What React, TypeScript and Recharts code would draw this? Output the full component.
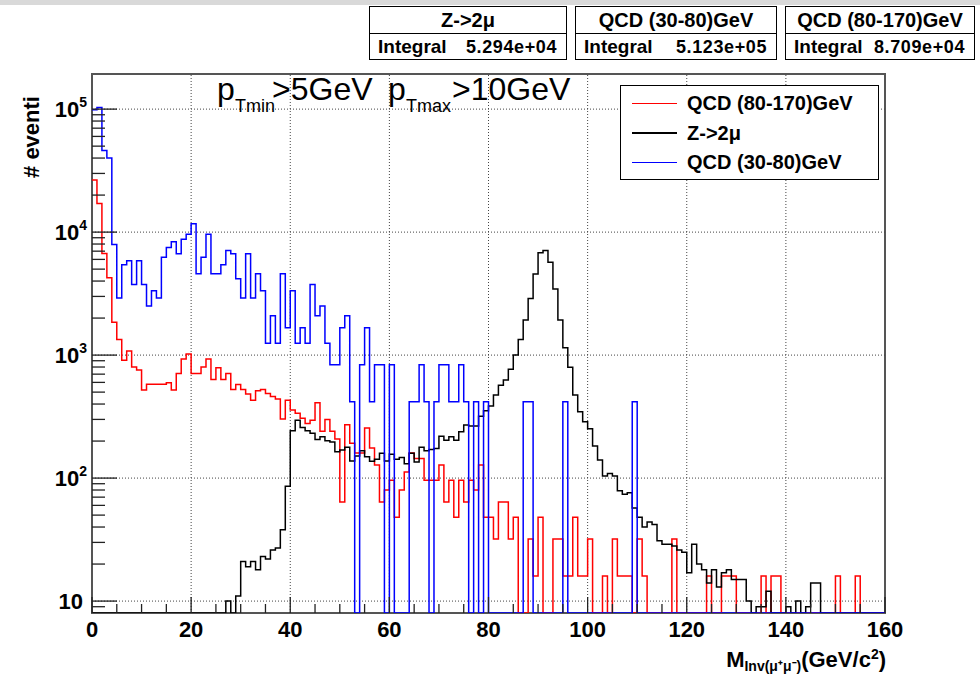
import React from "react";
import { LineChart, Line, XAxis, YAxis, ReferenceLine } from "recharts";

// 1 GeV bins, low edges 0..159
const binLow: number[] = Array.from({ length: 160 }, (_, i) => i);

// QCD (80-170)GeV  (red)
const qcd80_170 = [
  26500, 17100, 6700, 4250, 1850, 1340, 910, 1080, 800, 755,
  520, 580, 580, 580, 580, 596, 520, 710, 930, 1020,
  710, 710, 800, 930, 634, 789, 634, 710, 526, 578,
  526, 482, 430, 513, 526, 488, 460, 440, 302, 430,
  357, 336, 306, 278, 296, 409, 240, 300, 240, 208,
  64, 272, 192, 160, 160, 256, 176, 128, 64, 80,
  96, 48, 80, 112, 160, 144, 144, 96, 96, 96,
  128, 64, 96, 48, 96, 64, 96, 80, 128, 48,
  48, 32, 64, 64, 32, 48, 0, 0, 32, 16,
  48, 0, 0, 32, 32, 16, 16, 48, 16, 16,
  32, 0, 0, 16, 0, 32, 16, 16, 16, 0,
  32, 16, 0, 0, 0, 0, 0, 32, 0, 0,
  0, 0, 0, 0, 16, 0, 0, 16, 16, 16,
  0, 0, 0, 0, 0, 16, 0, 16, 16, 0,
  0, 0, 0, 0, 0, 0, 0, 0, 0, 0,
  16, 0, 0, 0, 16, 0, 0, 0, 0, 0,
];

// Z->2mu  (black)
const zmumu = [
  0, 0, 0, 0, 0, 0, 0, 0, 0, 0,
  0, 0, 0, 0, 0, 0, 0, 0, 0, 0,
  0, 0, 0, 0, 0, 0, 0, 10, 0, 11,
  21, 19, 21, 18, 23, 22, 26, 27, 38, 86,
  243, 296, 258, 243, 231, 206, 217, 201, 197, 164,
  169, 178, 138, 151, 167, 149, 137, 142, 159, 138,
  156, 142, 147, 131, 159, 135, 178, 167, 171, 174,
  219, 203, 217, 203, 238, 270, 265, 265, 319, 353,
  385, 473, 570, 627, 766, 1000, 1340, 1930, 2890, 4560,
  6800, 7100, 5700, 3440, 1930, 1150, 795, 473, 346, 287,
  252, 182, 140, 104, 109, 104, 79, 74, 76, 57,
  48, 40, 44, 42, 31, 29, 29, 28, 26, 25,
  17, 29, 20, 18, 14, 18, 13, 17, 18, 15,
  15, 15, 10, 0, 9, 9, 12, 0, 0, 0,
  9, 0, 10, 0, 9, 14, 14, 0, 0, 0,
  0, 0, 0, 0, 0, 0, 0, 0, 0, 0,
];

// QCD (30-80)GeV  (blue)
const qcd30_80 = [
  99000, 103000, 46000, 40000, 7923, 2919, 5421, 5838, 3753, 5838,
  3753, 2502, 3336, 2919, 6255, 7506, 8340, 6672, 8757, 9591,
  11676, 4587, 6255, 9591, 4587, 4587, 5421, 7089, 6672, 4170,
  2919, 6672, 2919, 4587, 3336, 1251, 2085, 1251, 4587, 1668,
  3336, 1251, 1668, 1251, 3753, 2085, 2502, 1251, 834, 834,
  1668, 2085, 417, 0, 834, 1668, 417, 834, 834, 0,
  834, 0, 0, 0, 417, 417, 834, 417, 0, 417,
  834, 834, 417, 417, 834, 417, 0, 417, 0, 417,
  0, 0, 0, 0, 0, 0, 0, 417, 417, 0,
  0, 0, 0, 0, 0, 417, 0, 0, 0, 0,
  0, 0, 0, 0, 0, 0, 0, 0, 0, 417,
  0, 0, 0, 0, 0, 0, 0, 0, 0, 0,
  0, 0, 0, 0, 0, 0, 0, 0, 0, 0,
  0, 0, 0, 0, 0, 0, 0, 0, 0, 0,
  0, 0, 0, 0, 0, 0, 0, 0, 0, 0,
  0, 0, 0, 0, 0, 0, 0, 0, 0, 0,
];

const xTicks = [
  0, 5, 10, 15, 20, 25, 30, 35, 40, 45, 50, 55, 60, 65, 70, 75, 80,
  85, 90, 95, 100, 105, 110, 115, 120, 125, 130, 135, 140, 145, 150, 155, 160,
];
const xGrid = [20, 40, 60, 80, 100, 120, 140];
const yTicks = [
  9, 10, 20, 30, 40, 50, 60, 70, 80, 90,
  100, 200, 300, 400, 500, 600, 700, 800, 900,
  1000, 2000, 3000, 4000, 5000, 6000, 7000, 8000, 9000,
  10000, 20000, 30000, 40000, 50000, 60000, 70000, 80000, 90000,
  100000,
];
const yGrid = [10, 100, 1000, 10000, 100000];

const stats = [
  { title: "Z->2μ", integral: "5.294e+04", left: 369, width: 198 },
  { title: "QCD (30-80)GeV", integral: "5.123e+05", left: 575, width: 202 },
  { title: "QCD (80-170)GeV", integral: "8.709e+04", left: 785, width: 190 },
];

const legendItems = [
  { label: "QCD (80-170)GeV", color: "#ff0000" },
  { label: "Z->2μ", color: "#000000" },
  { label: "QCD (30-80)GeV", color: "#0000ff" },
];

const Y_MIN = 8;
const Y_MAX = 193000;
const FONT = '"Liberation Sans", Arial, Helvetica, sans-serif';

// empty bins sit on the bottom of the frame, like ROOT does on a log axis
const clip = (v: number) => (v > Y_MIN ? v : Y_MIN);

const rows = [...binLow, 160].map((x) => {
  const i = Math.min(x, 159);
  return {
    x,
    red: clip(qcd80_170[i]),
    black: clip(zmumu[i]),
    blue: clip(qcd30_80[i]),
  };
});

function YTick(props: any) {
  const { x, y, payload } = props;
  const v = payload.value;
  const exp = Math.round(Math.log10(v));
  const major = Math.abs(Math.log10(v) - exp) < 1e-6;
  return (
    <g>
      <line x1={x} x2={x + (major ? 25 : 13)} y1={y} y2={y} stroke="#222" strokeWidth={1.3} />
      {major && (
        <text
          x={exp > 1 ? x - 5 : x - 9}
          y={y + 8}
          textAnchor="end"
          fontSize={22}
          fontWeight="bold"
          fontFamily={FONT}
          fill="#000"
        >
          10
          {exp > 1 && (
            <tspan dy={-10} fontSize={14}>
              {exp}
            </tspan>
          )}
        </text>
      )}
    </g>
  );
}

function XTick(props: any) {
  const { x, y, payload } = props;
  const v = payload.value;
  const major = v % 20 === 0;
  return (
    <g>
      <line x1={x} x2={x} y1={y} y2={y - (major ? 16 : 9)} stroke="#222" strokeWidth={1.3} />
      {major && (
        <text
          x={x}
          y={y + 24}
          textAnchor="middle"
          fontSize={22}
          fontWeight="bold"
          fontFamily={FONT}
          fill="#000"
        >
          {v}
        </text>
      )}
    </g>
  );
}

export default function App() {
  return (
    <div
      style={{
        position: "absolute",
        left: 0,
        top: 0,
        width: 980,
        height: 675,
        background: "#fff",
        fontFamily: FONT,
        overflow: "hidden",
      }}
    >
      <div style={{ position: "absolute", left: 0, top: 0, width: 980, height: 5, background: "#d9d9d9" }} />

      {/* frame under the histograms */}
      <div
        style={{
          position: "absolute",
          left: 91,
          top: 73,
          width: 795,
          height: 541,
          border: "2px solid #555",
          boxSizing: "border-box",
        }}
      />

      <div style={{ position: "absolute", left: 0, top: 0 }}>
        <LineChart width={980} height={675} data={rows} margin={{ top: 74, right: 95, bottom: 0, left: 0 }}>
          <XAxis
            type="number"
            dataKey="x"
            domain={[0, 160]}
            ticks={xTicks}
            interval={0}
            height={62}
            tickSize={0}
            tickMargin={0}
            axisLine={false}
            tickLine={false}
            tick={(p: any) => <XTick {...p} />}
            allowDataOverflow
          />
          <YAxis
            type="number"
            scale="log"
            domain={[Y_MIN, Y_MAX]}
            ticks={yTicks}
            interval={0}
            width={92}
            tickSize={0}
            tickMargin={0}
            axisLine={false}
            tickLine={false}
            tick={(p: any) => <YTick {...p} />}
            allowDataOverflow
          />
          {xGrid.map((g) => (
            <ReferenceLine key={"gx" + g} x={g} stroke="#444" strokeDasharray="1 2" />
          ))}
          {yGrid.map((g) => (
            <ReferenceLine key={"gy" + g} y={g} stroke="#444" strokeDasharray="1 2" />
          ))}
          <Line type="stepAfter" dataKey="red" stroke="#ff0000" strokeWidth={1.5} dot={false} isAnimationActive={false} />
          <Line type="stepAfter" dataKey="black" stroke="#000000" strokeWidth={1.5} dot={false} isAnimationActive={false} />
          <Line type="stepAfter" dataKey="blue" stroke="#0000ff" strokeWidth={1.5} dot={false} isAnimationActive={false} />
        </LineChart>
      </div>

      {/* titles */}
      <svg width={980} height={675} style={{ position: "absolute", left: 0, top: 0, pointerEvents: "none" }}>
        <text y={100} fontSize={32} fontFamily={FONT} fill="#000">
          <tspan x={217}>p</tspan>
          <tspan x={235} dy={12} fontSize={18}>Tmin</tspan>
          <tspan x={272} dy={-12}>&gt;5GeV</tspan>
          <tspan x={388}>p</tspan>
          <tspan x={406} dy={12} fontSize={18}>Tmax</tspan>
          <tspan x={452} dy={-12}>&gt;10GeV</tspan>
        </text>
        <text x={886} y={667} textAnchor="end" fontSize={22} fontWeight="bold" fontFamily={FONT} fill="#000">
          M
          <tspan dy={4} fontSize={14}>Inv(μ⁺μ⁻)</tspan>
          <tspan dy={-4}>(GeV/c</tspan>
          <tspan dy={-8} fontSize={14}>2</tspan>
          <tspan dy={8}>)</tspan>
        </text>
        <text
          transform="translate(39,137) rotate(-90)"
          textAnchor="middle"
          fontSize={22}
          fontWeight="bold"
          fontFamily={FONT}
          fill="#000"
        >
          # eventi
        </text>
      </svg>

      {/* stat boxes */}
      {stats.map((s) => (
        <div
          key={s.title}
          style={{
            position: "absolute",
            left: s.left,
            top: 6,
            width: s.width,
            height: 54,
            border: "1px solid #000",
            background: "#fff",
            boxSizing: "border-box",
            fontWeight: "bold",
          }}
        >
          <div
            style={{
              height: 26,
              borderBottom: "1px solid #000",
              textAlign: "center",
              fontSize: 20,
              lineHeight: "26px",
            }}
          >
            {s.title}
          </div>
          <div
            style={{
              display: "flex",
              justifyContent: "space-between",
              alignItems: "baseline",
              padding: "0 9px 0 8px",
              lineHeight: "26px",
            }}
          >
            <span style={{ fontSize: 19 }}>Integral</span>
            <span style={{ fontSize: 18, letterSpacing: 0.6 }}>{s.integral}</span>
          </div>
        </div>
      ))}

      {/* legend */}
      <div
        style={{
          position: "absolute",
          left: 620,
          top: 85,
          width: 259,
          height: 95,
          border: "1px solid #000",
          background: "#fff",
          boxSizing: "border-box",
        }}
      >
        {legendItems.map((it, i) => (
          <div
            key={it.label}
            style={{
              position: "absolute",
              left: 0,
              top: 3 + i * 29.5,
              height: 29,
              display: "flex",
              alignItems: "center",
            }}
          >
            <div style={{ marginLeft: 11, width: 45, height: 1.5, background: it.color }} />
            <span style={{ marginLeft: 10, fontSize: 20, fontWeight: "bold" }}>{it.label}</span>
          </div>
        ))}
      </div>
    </div>
  );
}
